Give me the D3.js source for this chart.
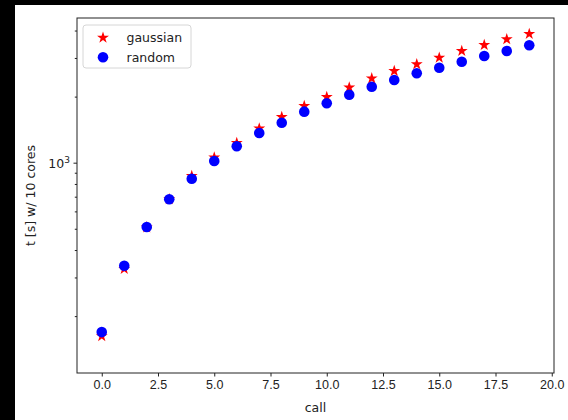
<!DOCTYPE html>
<html>
<head>
<meta charset="utf-8">
<script src="https://cdn.jsdelivr.net/npm/d3@7"></script>
<style>
  body { margin: 0; background: #000; }
  svg { display: block; font-family: "DejaVu Sans", sans-serif; }
</style>
</head>
<body>
<svg id="chart" width="568" height="420"></svg>
<script>
// data
const calls = d3.range(0, 20);
const gaussian = [163, 330, 510, 685, 874, 1062, 1236, 1439, 1623, 1822,
                  2003, 2213, 2436, 2630, 2822, 3024, 3245, 3455, 3668, 3879];
const random = [170, 341, 512, 685, 850, 1023, 1194, 1373, 1529, 1717,
                1875, 2051, 2231, 2393, 2568, 2723, 2900, 3079, 3245, 3444];
const xTicks = [0, 2.5, 5, 7.5, 10, 12.5, 15, 17.5, 20];
const yMinor = [200, 300, 400, 500, 600, 700, 800, 900, 2000, 3000, 4000];
const seriesNames = ['gaussian', 'random'];

const svg = d3.select('#chart');

// white canvas with the black frame of the screenshot
svg.append('rect').attr('width', 568).attr('height', 420).attr('fill', '#000');
svg.append('rect').attr('x', 15).attr('y', 5).attr('width', 553).attr('height', 415).attr('fill', '#fff');

const m = {left: 77, right: 554, top: 18, bottom: 373};

const x = d3.scaleLinear().domain([-1.1, 20.1]).range([m.left, m.right]);
const y = d3.scaleLog().domain([110.7, 4586]).range([m.bottom, m.top]);

const tickColor = '#222';

// x axis
const xAxis = d3.axisBottom(x)
  .tickValues(xTicks)
  .tickFormat(d3.format('.1f'))
  .tickSize(3.5)
  .tickPadding(4);

const gx = svg.append('g')
  .attr('transform', 'translate(0,' + m.bottom + ')')
  .call(xAxis);
gx.select('.domain').remove();
gx.selectAll('line').attr('stroke', tickColor);
gx.selectAll('text').attr('fill', tickColor).style('font-size', '12.5px');

// y axis: one major tick, minor ticks
const gy = svg.append('g').attr('transform', 'translate(' + m.left + ',0)');
gy.selectAll('.minor')
  .data(yMinor)
  .enter().append('line')
  .attr('x1', 0).attr('x2', -2.2)
  .attr('y1', d => y(d)).attr('y2', d => y(d))
  .attr('stroke', tickColor);
gy.append('line')
  .attr('x1', 0).attr('x2', -3.5)
  .attr('y1', y(1000)).attr('y2', y(1000))
  .attr('stroke', tickColor);
const lab = gy.append('text')
  .attr('x', -7).attr('y', y(1000) + 4.5)
  .attr('text-anchor', 'end')
  .attr('fill', tickColor)
  .style('font-size', '12.5px');
lab.append('tspan').text('10');
lab.append('tspan').attr('dy', -5).style('font-size', '9px').text('3');

// frame
svg.append('rect')
  .attr('x', m.left).attr('y', m.top)
  .attr('width', m.right - m.left).attr('height', m.bottom - m.top)
  .attr('fill', 'none')
  .attr('stroke', '#222')
  .attr('stroke-width', 1);

// axis labels
svg.append('text')
  .attr('x', (m.left + m.right) / 2).attr('y', 412)
  .attr('text-anchor', 'middle')
  .attr('fill', tickColor)
  .style('font-size', '12.5px')
  .text('call');

svg.append('text')
  .attr('transform', 'translate(35,' + (m.top + m.bottom) / 2 + ') rotate(-90)')
  .attr('text-anchor', 'middle')
  .attr('fill', tickColor)
  .style('font-size', '12.5px')
  .text('t [s] w/ 10 cores');

// markers
const star = d3.symbol().type(d3.symbolStar).size(44);
const dot = d3.symbol().type(d3.symbolCircle).size(88);

svg.selectAll('.gauss')
  .data(calls)
  .enter().append('path')
  .attr('class', 'gauss')
  .attr('d', star)
  .attr('transform', d => 'translate(' + x(d) + ',' + y(gaussian[d]) + ')')
  .attr('fill', 'red');

svg.selectAll('.rand')
  .data(calls)
  .enter().append('path')
  .attr('class', 'rand')
  .attr('d', dot)
  .attr('transform', d => 'translate(' + x(d) + ',' + y(random[d]) + ')')
  .attr('fill', 'blue');

// legend
const lg = svg.append('g').attr('transform', 'translate(83,25)');
lg.append('rect')
  .attr('width', 108).attr('height', 43)
  .attr('rx', 3)
  .attr('fill', '#fff')
  .attr('stroke', '#d6d6d6');
const items = lg.selectAll('.item')
  .data(seriesNames)
  .enter().append('g')
  .attr('transform', (d, i) => 'translate(20,' + (12.7 + i * 19.6) + ')');
items.append('path')
  .attr('d', (d, i) => i === 0 ? star() : dot())
  .attr('fill', (d, i) => i === 0 ? 'red' : 'blue');
items.append('text')
  .attr('x', 23.5).attr('y', 4.5)
  .attr('fill', tickColor)
  .style('font-size', '12.5px')
  .text(d => d);
</script>
</body>
</html>
